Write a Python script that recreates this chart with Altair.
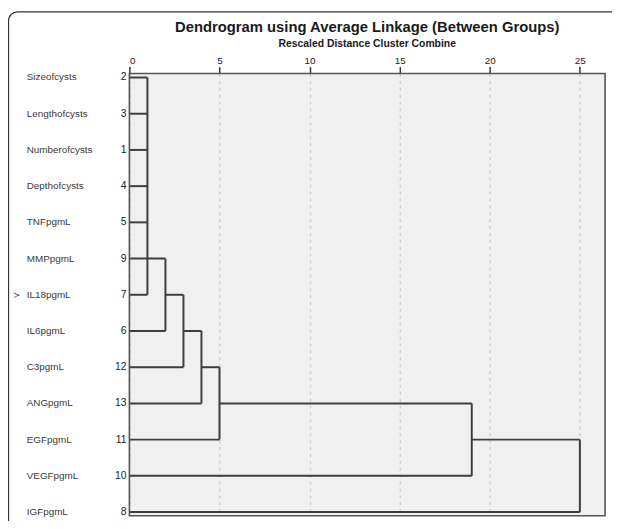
import altair as alt
import pandas as pd

# ---- data ----
leaf_names = ["Sizeofcysts", "Lengthofcysts", "Numberofcysts", "Depthofcysts", "TNFpgmL",
              "MMPpgmL", "IL18pgmL", "IL6pgmL", "C3pgmL", "ANGpgmL", "EGFpgmL", "VEGFpgmL", "IGFpgmL"]
leaf_ids = ["2", "3", "1", "4", "5", "9", "7", "6", "12", "13", "11", "10", "8"]
# rescaled distance where each leaf's own line ends
leaf_end = [1, 1, 1, 1, 1, 2, 1, 2, 3, 4, 5, 19, 25]
# merges (rescaled distance, first row, last row)
merge_height = [1, 2, 3, 4, 5, 19, 25]
merge_top = [0, 5, 6, 7, 8, 9, 10]
merge_bottom = [6, 7, 8, 9, 10, 11, 12]
tick_values = [0, 5, 10, 15, 20, 25]

W, H = 482, 448
LINE = "#3d3d3d"
FONT = "Liberation Sans"

# ---- build segments from the tree ----
segs = []
for r, e in enumerate(leaf_end):
    segs.append(dict(x0=0, x1=e, y0=r, y1=r))
for k, h in enumerate(merge_height):
    segs.append(dict(x0=h, x1=h, y0=merge_top[k], y1=merge_bottom[k]))
    if k >= 1 and k + 1 < len(merge_height):
        rep = (merge_top[k] + merge_bottom[k]) / 2
        segs.append(dict(x0=h, x1=merge_height[k + 1], y0=rep, y1=rep))
seg_df = pd.DataFrame(segs)

lab_df = pd.DataFrame({"row": list(range(len(leaf_names))), "name": leaf_names, "num": leaf_ids})

xscale = alt.Scale(domain=[0, 26.4], nice=False, zero=False)
yscale = alt.Scale(domain=[-0.11, 12.1], reverse=True, nice=False, zero=False)

lines = alt.Chart(seg_df).mark_rule(color=LINE, strokeWidth=2).encode(
    x=alt.X("x0:Q", scale=xscale,
            axis=alt.Axis(orient="top", values=tick_values, tickSize=7, tickColor="#333",
                          tickWidth=1.5, labelFontSize=10, labelColor="#222", labelFont=FONT,
                          labelPadding=1, domain=False, grid=True, gridDash=[3, 4],
                          gridColor="#cfcfcf", gridWidth=1.5, title=None)),
    x2="x1:Q",
    y=alt.Y("y0:Q", scale=yscale, axis=None),
    y2="y1:Q",
)

frame = alt.Chart(pd.DataFrame({"a": [0]})).mark_rect(
    fill=None, stroke="#555", strokeWidth=1.6
).encode(x=alt.value(0), x2=alt.value(W), y=alt.value(0), y2=alt.value(H))

outer = alt.Chart(pd.DataFrame({"a": [0]})).mark_rect(
    fill=None, stroke="#333", strokeWidth=1.3, cornerRadius=9
).encode(x=alt.value(-122.5), x2=alt.value(W + 60), y=alt.value(-62.5), y2=alt.value(H + 60))

names = alt.Chart(lab_df).mark_text(align="left", baseline="middle", font=FONT,
                                    fontSize=10, color="#3a3a3a").encode(
    x=alt.value(-104), y=alt.Y("row:Q", scale=yscale, axis=None), text="name:N")

nums = alt.Chart(lab_df).mark_text(align="right", baseline="middle", font=FONT,
                                   fontSize=10.5, color="#222").encode(
    x=alt.value(-3), y=alt.Y("row:Q", scale=yscale, axis=None), text="num:N")

marker = alt.Chart(pd.DataFrame({"row": [6], "t": ["≻"]})).mark_text(
    align="left", baseline="middle", font="DejaVu Sans", fontSize=9, color="#444").encode(
    x=alt.value(-118), y=alt.Y("row:Q", scale=yscale, axis=None), text="t:N")

title = alt.Chart(pd.DataFrame({"t": ["Dendrogram using Average Linkage (Between Groups)"]})).mark_text(
    align="center", baseline="middle", font=FONT, fontSize=15, fontWeight="bold", color="#1a1a1a").encode(
    x=alt.value(W / 2), y=alt.value(-47), text="t:N")

subtitle = alt.Chart(pd.DataFrame({"t": ["Rescaled Distance Cluster Combine"]})).mark_text(
    align="center", baseline="middle", font=FONT, fontSize=10.5, fontWeight="bold", color="#1a1a1a").encode(
    x=alt.value(W / 2), y=alt.value(-30), text="t:N")

chart = alt.layer(lines, frame, names, nums, marker, title, subtitle, outer).properties(
    width=W, height=H,
    autosize=alt.AutoSizeParams(type="none"),
    padding={"left": 123, "top": 63, "right": 7, "bottom": 2},
    background="white",
).configure_view(fill="#f0f0f0", strokeWidth=0)

chart.save("out.html", embed_options={"renderer": "svg", "actions": False})
